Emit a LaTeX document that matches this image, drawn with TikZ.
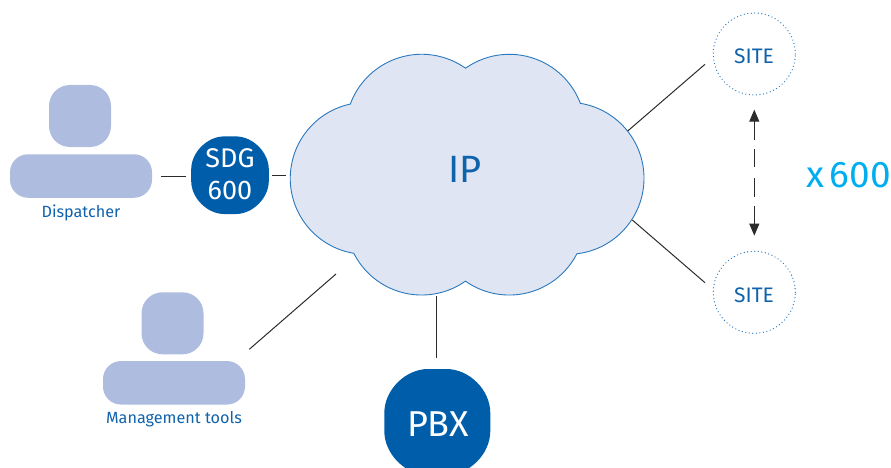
\documentclass[tikz,border=0pt]{standalone}
\usepackage{fontspec}
\setmainfont{Fira Sans}
\usetikzlibrary{arrows.meta}
\definecolor{deepblue}{HTML}{005DAA}
\definecolor{textblue}{HTML}{0F62AC}
\definecolor{cloudfill}{HTML}{DFE5F3}
\definecolor{cloudline}{HTML}{2A78BE}
\definecolor{personfill}{HTML}{AEBCDF}
\definecolor{skyblue}{HTML}{00AEEF}
\definecolor{linkgrey}{HTML}{2B2B2B}
\newcommand{\fs}[1]{\fontsize{#1}{#1}\selectfont}
% squircle: centre x, centre y, half size, corner reach, control offset
\newcommand{\squircle}[5]{%
  \fill[deepblue] (#1-#3+#4,#2-#3) -- (#1+#3-#4,#2-#3)
    .. controls (#1+#3-#5,#2-#3) and (#1+#3,#2-#3+#5) .. (#1+#3,#2-#3+#4)
    -- (#1+#3,#2+#3-#4)
    .. controls (#1+#3,#2+#3-#5) and (#1+#3-#5,#2+#3) .. (#1+#3-#4,#2+#3)
    -- (#1-#3+#4,#2+#3)
    .. controls (#1-#3+#5,#2+#3) and (#1-#3,#2+#3-#5) .. (#1-#3,#2+#3-#4)
    -- (#1-#3,#2-#3+#4)
    .. controls (#1-#3,#2-#3+#5) and (#1-#3+#5,#2-#3) .. (#1-#3+#4,#2-#3) -- cycle;}
\tikzset{
  x=1pt, y=-1pt,
  head/.style={fill=personfill, rounded corners=21pt, minimum width=62pt, minimum height=62pt, inner sep=0pt},
  torso/.style={fill=personfill, rounded corners=18pt, minimum width=142pt, minimum height=43.5pt, inner sep=0pt},
  caption/.style={text=textblue, font=\fs{16.2}, inner sep=0pt},
  site/.style={circle, draw=cloudline, line width=1.3pt, line cap=round, dash pattern=on 0pt off 3.55pt,
     minimum size=82pt, inner sep=0pt},
  sitetext/.style={text=textblue, font=\fs{21}, inner sep=0pt},
  link/.style={draw=linkgrey, line width=1pt},
}
\begin{document}
\begin{tikzpicture}
\useasboundingbox (0,0) rectangle (891,468);
\clip (0,0) rectangle (891,468);
% cloud
\draw[fill=cloudfill, draw=cloudline, line width=0.9pt]
  (465.5,68.2)
  arc[start angle=-125.2, end angle=-20.8, radius=76]
  arc[start angle=-80.65, end angle=83.3, radius=76]
  arc[start angle=27.2, end angle=125.2, radius=76]
  arc[start angle=54.8, end angle=153.2, radius=76]
  arc[start angle=99.4, end angle=257.9, radius=76]
  arc[start angle=200.2, end angle=305.2, radius=76]
  -- cycle;
\node[text=textblue, font=\fs{38}, inner sep=0pt] (cloud) at (465,169) {IP};
% dispatcher
\node[head]  (dhead) at (80,116) {};
\node[torso] (dbody) at (81,176) {};
\node[caption] (dcap) at (81,212.5) {Dispatcher};
% SDG
\squircle{230}{175.2}{38.8}{33}{16}
\node[text=white, font=\fs{27}, inner sep=0pt] (sdgA) at (230,158.5) {SDG};
\node[text=white, font=\fs{27}, inner sep=0pt] (sdgB) at (230,190.5) {600};
% management
\node[head]  (mhead) at (172.5,323.3) {};
\node[torso] (mbody) at (174,382.8) {};
\node[caption] (mcap) at (174,419.5) {Management tools};
% PBX
\squircle{437.3}{422}{53}{44}{21}
\node[text=white, font=\fs{36}, inner sep=0pt] (pbxt) at (438,424.5) {PBX};
% sites
\node[site] (siteA) at (754.3,54) {};
\node[site] (siteB) at (754.3,292.3) {};
\node[sitetext] (siteAt) at (754,56.5) {SITE};
\node[sitetext] (siteBt) at (754,294.8) {SITE};
\node[text=skyblue, font=\fs{37}, inner sep=0pt, anchor=east] (count) at (891,175) {x\hspace{5pt}600};
% connector end points
\coordinate (cA1) at (627.7,131);
\coordinate (cA2) at (705,64.3);
\coordinate (cB1) at (632.3,220);
\coordinate (cB2) at (705,282.7);
\coordinate (cM1) at (249.3,349.3);
\coordinate (cM2) at (336,274);
\coordinate (cP1) at (436.7,296);
\coordinate (cP2) at (436.7,358);
\coordinate (cS1) at (272,175);
\coordinate (cS2) at (286,175);
\coordinate (cD1) at (161.3,176);
\coordinate (cD2) at (185.7,176);
% connectors
\draw[link] (cD1) -- (cD2);
\draw[link] (cS1) -- (cS2);
\draw[link] (cA1) -- (cA2);
\draw[link] (cB1) -- (cB2);
\draw[link] (cM1) -- (cM2);
\draw[link] (cP1) -- (cP2);
\draw[link, {Stealth[length=12pt,width=10pt,inset=0pt]}-{Stealth[length=12pt,width=10pt,inset=0pt]},
  dash pattern=on 19pt off 9pt on 18pt off 11pt on 19pt off 9pt on 18pt,
  shorten <=14pt, shorten >=15pt] (siteA) -- (siteB);
\end{tikzpicture}
\end{document}
